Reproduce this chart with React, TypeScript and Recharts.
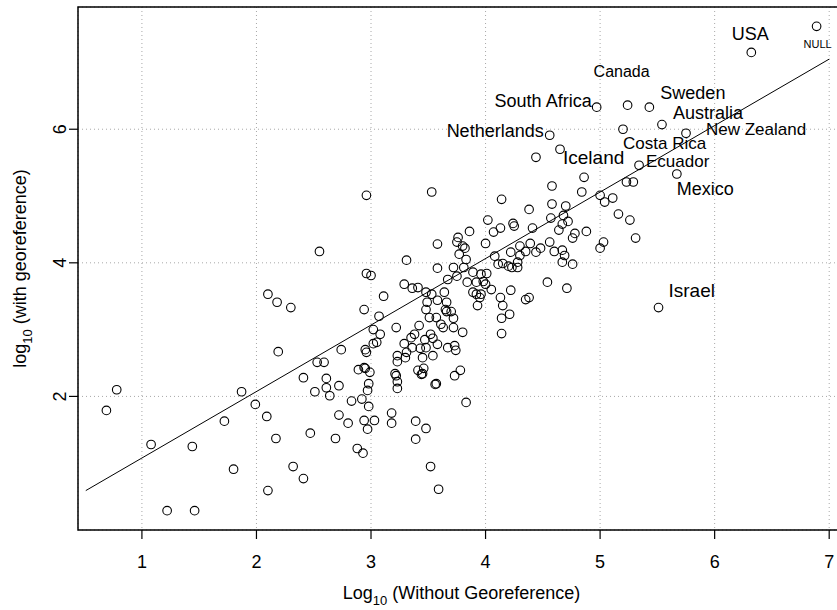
import React from 'react';
import {
  ScatterChart,
  Scatter,
  XAxis,
  YAxis,
  CartesianGrid,
  ReferenceLine,
  ReferenceArea,
} from 'recharts';

const FONT = "'Liberation Sans', Arial, Helvetica, sans-serif";

// log10 counts of records: without georeference (x) and with georeference (y)
const withoutGeo = [
  4.44, 4.86, 4.58, 4.84, 5.23, 5.29, 5.00, 5.04, 5.11, 2.96,
  3.53, 4.14, 4.58, 4.70, 4.38, 5.16, 5.26, 5.31, 4.02, 4.24,
  4.25, 4.13, 4.07, 4.41, 4.57, 4.68, 4.72, 4.67, 4.64, 4.78,
  4.76, 4.88, 5.03, 5.00, 3.86, 3.76, 3.75, 3.58, 3.80, 3.82,
  3.77, 3.83, 3.72, 3.81, 3.58, 3.31, 2.96, 3.00, 3.67, 3.75,
  3.89, 3.84, 3.92, 3.96, 4.00, 4.08, 4.22, 4.30, 4.35, 4.39,
  4.44, 4.48, 4.56, 4.60, 4.67, 4.69, 4.67, 4.76, 4.30, 4.28,
  4.28, 4.11, 4.15, 4.20, 4.23, 4.01, 3.98, 4.00, 4.05, 4.22,
  4.54, 4.71, 4.35, 4.38, 4.13, 4.15, 4.21, 4.14, 4.14, 3.89,
  3.92, 3.96, 3.95, 3.93, 3.64, 3.58, 3.66, 3.65, 3.66, 3.70,
  3.72, 3.72, 3.80, 3.61, 3.63, 3.51, 3.57, 3.52, 3.54, 3.47,
  3.58, 3.54, 3.48, 3.53, 3.49, 3.48, 3.42, 3.35, 3.38, 3.22,
  3.29, 3.36, 3.41, 3.11, 3.07, 3.02, 3.08, 3.02, 3.05, 2.94,
  2.95, 2.96, 3.29, 3.36, 3.43, 3.48, 3.31, 3.30, 3.23, 3.23,
  3.45, 3.67, 3.73, 3.74, 3.41, 3.44, 3.45, 3.46, 3.21, 3.22,
  3.23, 3.23, 2.94, 2.95, 2.99, 2.89, 2.98, 2.97, 2.92, 2.98,
  2.94, 3.03, 2.97, 2.88, 2.93, 3.56, 3.57, 3.73, 3.78, 3.83,
  3.18, 3.18, 3.39, 3.48, 3.39, 3.52, 3.59, 2.55, 2.10, 2.18,
  2.30, 2.19, 2.74, 2.53, 2.59, 2.41, 2.61, 2.72, 2.61, 2.51,
  2.64, 2.83, 2.72, 2.80, 2.69, 0.78, 0.69, 1.08, 1.22, 1.46,
  1.44, 1.72, 1.80, 1.87, 1.99, 2.09, 2.17, 2.10, 2.32, 2.41, 2.47,
];

const withGeo = [
  5.58, 5.28, 5.15, 5.06, 5.21, 5.21, 5.01, 4.91, 4.97, 5.01,
  5.06, 4.95, 4.88, 4.85, 4.80, 4.73, 4.64, 4.37, 4.64, 4.59,
  4.55, 4.52, 4.46, 4.52, 4.67, 4.71, 4.62, 4.58, 4.49, 4.44,
  4.37, 4.47, 4.31, 4.22, 4.47, 4.38, 4.31, 4.28, 4.25, 4.22,
  4.13, 4.05, 3.93, 3.93, 3.92, 4.04, 3.84, 3.81, 3.75, 3.80,
  3.86, 3.71, 3.71, 3.83, 4.29, 4.10, 4.16, 4.25, 4.17, 4.29,
  4.16, 4.22, 4.31, 4.17, 4.19, 4.11, 4.01, 3.98, 4.11, 4.01,
  3.93, 3.98, 3.99, 3.95, 3.93, 3.84, 3.72, 3.68, 3.60, 3.59,
  3.71, 3.62, 3.45, 3.48, 3.48, 3.36, 3.23, 3.17, 2.94, 3.56,
  3.53, 3.53, 3.48, 3.36, 3.56, 3.44, 3.41, 3.30, 3.27, 3.27,
  3.17, 3.03, 2.96, 3.08, 3.03, 3.18, 3.18, 2.93, 2.87, 2.85,
  2.78, 2.61, 3.56, 3.53, 3.41, 3.30, 3.06, 2.88, 2.93, 3.03,
  3.68, 3.62, 3.63, 3.50, 3.20, 3.00, 2.93, 2.79, 2.81, 3.30,
  2.70, 2.66, 2.79, 2.73, 2.72, 2.73, 2.66, 2.58, 2.61, 2.52,
  2.58, 2.73, 2.76, 2.69, 2.39, 2.33, 2.34, 2.42, 2.34, 2.31,
  2.22, 2.12, 2.43, 2.42, 2.36, 2.40, 2.19, 2.09, 1.96, 1.85,
  1.64, 1.64, 1.51, 1.22, 1.15, 2.18, 2.19, 2.31, 2.39, 1.91,
  1.75, 1.60, 1.63, 1.52, 1.36, 0.95, 0.61, 4.17, 3.53, 3.41,
  3.33, 2.67, 2.70, 2.51, 2.51, 2.28, 2.27, 2.16, 2.13, 2.07,
  2.01, 1.93, 1.72, 1.60, 1.37, 2.10, 1.79, 1.28, 0.29, 0.29,
  1.25, 1.63, 0.91, 2.07, 1.88, 1.70, 1.37, 0.59, 0.95, 0.77, 1.45,
];

const countries = [
  'USA', 'NULL', 'Canada', 'South Africa', 'Sweden', 'Australia', 'New Zealand',
  'Costa Rica', 'Netherlands', 'Iceland', 'Ecuador', 'Mexico', 'Israel',
];
const countryWithout = [6.32, 6.89, 5.24, 4.97, 5.43, 5.54, 5.75, 5.20, 4.56, 4.65, 5.34, 5.67, 5.51];
const countryWith = [7.15, 7.54, 6.36, 6.33, 6.33, 6.07, 5.94, 6.00, 5.91, 5.70, 5.46, 5.33, 3.33];

// fitted line, read at its two ends
const fitWithout = [0.51, 7.0];
const fitWith = [0.59, 7.05];

const xTicks = [1, 2, 3, 4, 5, 6, 7];
const yTicks = [2, 4, 6];
const xDomain = [0.442, 7.138];
const yDomain = [0, 7.83];

// where each country name sits relative to its point
const labelPos: Record<string, { anchor: string; dx: number; dy: number; size: number }> = {
  USA: { anchor: 'middle', dx: -1, dy: -18, size: 18 },
  NULL: { anchor: 'middle', dx: 1, dy: 18, size: 11 },
  Canada: { anchor: 'start', dx: -34, dy: -34, size: 16 },
  'South Africa': { anchor: 'end', dx: -5, dy: -6, size: 18 },
  Sweden: { anchor: 'start', dx: 11, dy: -14, size: 18 },
  Australia: { anchor: 'start', dx: 11, dy: -12, size: 18 },
  'New Zealand': { anchor: 'start', dx: 20, dy: -4, size: 17 },
  'Costa Rica': { anchor: 'start', dx: 0, dy: 14, size: 17 },
  Netherlands: { anchor: 'end', dx: -6, dy: -4, size: 18 },
  Iceland: { anchor: 'start', dx: 3, dy: 8, size: 19 },
  Ecuador: { anchor: 'start', dx: 7, dy: -4, size: 17 },
  Mexico: { anchor: 'start', dx: 0, dy: 15, size: 18 },
  Israel: { anchor: 'start', dx: 10, dy: -17, size: 19 },
};

const points = withoutGeo.map((x, i) => ({ x, y: withGeo[i] }));
const labelled = countries.map((country, i) => ({
  x: countryWithout[i],
  y: countryWith[i],
  country,
}));

const Ring = (p: any) => (
  <circle cx={p.cx} cy={p.cy} r={4.3} fill="none" stroke="#000" strokeWidth={1.1} />
);

const LabelledRing = (p: any) => {
  const country = p.payload?.country ?? p.country;
  const s = labelPos[country];
  return (
    <g>
      <circle cx={p.cx} cy={p.cy} r={4.3} fill="none" stroke="#000" strokeWidth={1.1} />
      <text
        x={p.cx + s.dx}
        y={p.cy + s.dy}
        textAnchor={s.anchor as any}
        dominantBaseline="central"
        fontSize={s.size}
        fontFamily={FONT}
        fill="#000"
      >
        {country}
      </text>
    </g>
  );
};

const YTick = (p: any) => (
  <text
    x={p.x}
    y={p.y}
    transform={`rotate(-90 ${p.x} ${p.y})`}
    textAnchor="middle"
    fontSize={18}
    fontFamily={FONT}
    fill="#000"
  >
    {p.payload.value}
  </text>
);

const XTitle = () => (
  <text x={461.5} y={599} textAnchor="middle" fontSize={18} fontFamily={FONT} fill="#000">
    Log
    <tspan fontSize={13} dy={6}>10</tspan>
    <tspan dy={-6}> (Without Georeference)</tspan>
  </text>
);

const YTitle = () => (
  <text
    x={26}
    y={268.5}
    transform="rotate(-90 26 268.5)"
    textAnchor="middle"
    fontSize={18}
    fontFamily={FONT}
    fill="#000"
  >
    log
    <tspan fontSize={13} dy={6}>10</tspan>
    <tspan dy={-6}> (with georeference)</tspan>
  </text>
);

export default function App() {
  return (
    <div
      style={{
        position: 'absolute',
        left: 0,
        top: 0,
        width: 837,
        height: 610,
        overflow: 'hidden',
        background: '#fff',
      }}
    >
      <ScatterChart width={846} height={610} margin={{ top: 7, right: 1, bottom: 0, left: 0 }}>
        <CartesianGrid stroke="#a8a8a8" strokeDasharray="1 3" />
        <XAxis
          type="number"
          dataKey="x"
          domain={xDomain}
          ticks={xTicks}
          allowDataOverflow
          axisLine={false}
          tickLine={{ stroke: '#000', strokeWidth: 1.2 }}
          tickSize={9}
          tickMargin={16}
          tick={{ fill: '#000', fontSize: 18, fontFamily: FONT }}
          height={80}
          label={<XTitle />}
        />
        <YAxis
          type="number"
          dataKey="y"
          domain={yDomain}
          ticks={yTicks}
          allowDataOverflow
          axisLine={false}
          tickLine={{ stroke: '#000', strokeWidth: 1.2 }}
          tickSize={9}
          tickMargin={3}
          tick={<YTick />}
          width={78}
          label={<YTitle />}
        />
        <ReferenceLine
          segment={[
            { x: fitWithout[0], y: fitWith[0] },
            { x: fitWithout[1], y: fitWith[1] },
          ]}
          stroke="#000"
          strokeWidth={1}
          ifOverflow="visible"
        />
        <Scatter data={points} shape={Ring} isAnimationActive={false} />
        <Scatter data={labelled} shape={LabelledRing} isAnimationActive={false} />
        <ReferenceArea
          x1={xDomain[0]}
          x2={xDomain[1]}
          y1={yDomain[0]}
          y2={yDomain[1]}
          fill="none"
          stroke="#000"
          strokeWidth={1.5}
          ifOverflow="visible"
        />
      </ScatterChart>
    </div>
  );
}
